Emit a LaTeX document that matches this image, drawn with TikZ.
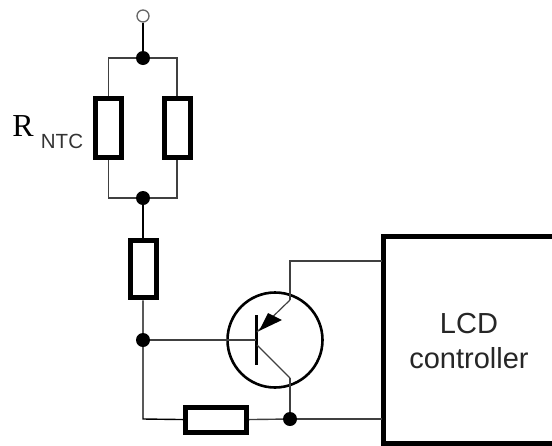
\documentclass[tikz,border=0pt]{standalone}
\usepackage{fontspec}
\setmainfont{Liberation Serif}
\setsansfont{Liberation Sans}
\usetikzlibrary{arrows.meta}
\tikzset{
    res/.style={draw, line width=5pt, fill=white, inner sep=0pt},
    wire/.style={line width=1.4pt, black!75},
    dot/.style={circle, fill=black, inner sep=0pt, minimum size=14pt},
}
\begin{document}
\begin{tikzpicture}[x=1pt, y=-1pt]
    \useasboundingbox (0, 0) rectangle (552, 445);
    % parallel branch
    \node[circle, draw=black!60, line width=1.3pt, inner sep=0pt, minimum size=12pt] (top) at (143, 16) {};
    \node[dot] (dota) at (143, 58) {};
    \node[dot] (dotb) at (143, 198) {};
    \node[res, minimum width=26pt, minimum height=59pt] (rleft) at (108.5, 128) {};
    \node[res, minimum width=26pt, minimum height=59pt] (rright) at (177, 128) {};
    \node[res, minimum width=26pt, minimum height=57.5pt] (rmid) at (143, 269) {};
    \draw[wire, black] (top) -- (dota);
    \draw[wire] (dota) -| (rleft);
    \draw[wire] (dota) -| (rright);
    \draw[wire] (dotb) -| (rleft);
    \draw[wire] (dotb) -| (rright);
    \draw[wire, black] (dotb) -- (rmid);
    \node[anchor=base] (rlabel) at (23, 136) {\fontsize{32pt}{32pt}\selectfont R};
    \node[anchor=base, black!80] (ntclabel) at (62, 148) {\sffamily\fontsize{20.5pt}{20.5pt}\selectfont NTC};
    % transistor stage
    \node[dot] (dotc) at (143, 340) {};
    \node[dot] (dotd) at (290, 419) {};
    \node[res, minimum width=61pt, minimum height=25pt] (rlow) at (216, 420) {};
    \node[circle, draw, line width=2.6pt, inner sep=0pt, minimum size=95pt] (tr) at (275, 340) {};
    \coordinate (base) at (256, 340);
    \coordinate (emit) at (290, 300);
    \coordinate (coll) at (290, 378);
    \coordinate (low) at (143, 419);
    \draw[line width=3pt] (256, 315) -- (256, 365);
    \draw[wire] (dotc) -- (base);
    \draw[wire, black] (rmid) -- (dotc) -- (low) -- (rlow);
    \draw[wire] (rlow) -- (dotd);
    \draw[wire] (coll) -- (dotd);
    \draw[line width=1.2pt, black!75] (257, 345) -- (coll);
    \draw[line width=1.2pt, black!75] (emit) -- (257, 332);
    \fill (259, 331) -- (268, 313) -- (282, 320) -- cycle;
    % controller
    \node[draw, line width=5pt, minimum width=180pt, minimum height=206.5pt, anchor=north west] (lcd) at (381, 234) {};
    \node[anchor=base, font=\sffamily\fontsize{29pt}{35pt}\selectfont, black!85] (lcdtext) at (469, 333) {LCD};
    \node[anchor=base, font=\sffamily\fontsize{29pt}{35pt}\selectfont, black!85] (ctrltext) at (469, 368) {controller};
    \draw[wire] (emit) |- (382, 261);
    \draw[wire] (dotd) -- (382, 419);
\end{tikzpicture}
\end{document}
